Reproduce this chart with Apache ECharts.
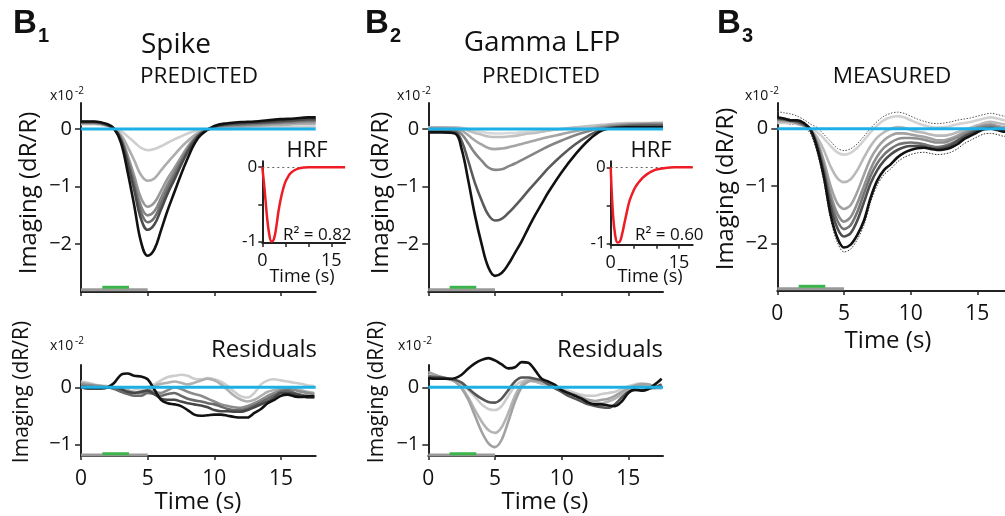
<!DOCTYPE html>
<html><head><meta charset="utf-8">
<script src="https://cdn.jsdelivr.net/npm/echarts@6/dist/echarts.min.js"></script>
<style>html,body{margin:0;padding:0;background:#fff}#c{width:1005px;height:516px}</style>
</head><body><div id="c"></div>
<script>
// ---------- time bases ----------
const T_PRED = [0,1,2,2.5,3,3.5,4,4.5,5,5.5,6,6.5,7,7.5,8,8.5,9,10,11,12,13,14,15,16,17,17.6];
const T_HALF = [0,0.5,1,1.5,2,2.5,3,3.5,4,4.5,5,5.5,6,6.5,7,7.5,8,8.5,9,9.5,10,10.5,11,11.5,12,12.5,13,13.5,14,14.5,15,15.5,16,16.5,17,17.5];
const T_HRF = [0,0.5,1,1.5,2,2.5,3,3.5,4,4.5,5,5.5,6,7,8,9,10,12,14,16,18];
const T_ZERO = [0,17.6];
const ZERO_VALS = [0,0];
const STIM_T = [0,5];
const LIGHT_T = [1.6,3.6];

// ---------- B1: Spike predicted (light -> dark) ----------
const SPIKE_PRED_1 = [0.08,0.08,0.05,0.0,-0.04,-0.13,-0.23,-0.33,-0.37,-0.35,-0.3,-0.24,-0.18,-0.13,-0.08,-0.04,-0.01,0.0,0.0,0.01,0.02,0.02,0.03,0.03,0.04,0.04];
const SPIKE_PRED_2 = [0.1,0.1,0.06,0.0,-0.1,-0.31,-0.55,-0.8,-0.9,-0.86,-0.72,-0.58,-0.45,-0.32,-0.21,-0.11,-0.04,0.02,0.03,0.04,0.05,0.06,0.07,0.08,0.09,0.09];
const SPIKE_PRED_3 = [0.1,0.1,0.06,0.0,-0.15,-0.46,-0.82,-1.2,-1.35,-1.28,-1.08,-0.86,-0.68,-0.49,-0.31,-0.16,-0.06,0.03,0.05,0.06,0.07,0.08,0.1,0.11,0.12,0.12];
const SPIKE_PRED_4 = [0.11,0.11,0.06,0.0,-0.17,-0.51,-0.92,-1.34,-1.5,-1.43,-1.2,-0.96,-0.75,-0.54,-0.35,-0.18,-0.07,0.03,0.06,0.07,0.08,0.1,0.11,0.12,0.14,0.14];
const SPIKE_PRED_5 = [0.12,0.12,0.07,0.0,-0.18,-0.55,-0.99,-1.44,-1.62,-1.54,-1.3,-1.04,-0.81,-0.58,-0.37,-0.19,-0.07,0.04,0.07,0.08,0.1,0.11,0.12,0.14,0.15,0.15];
const SPIKE_PRED_6 = [0.12,0.12,0.07,0.0,-0.19,-0.6,-1.07,-1.56,-1.75,-1.66,-1.4,-1.12,-0.88,-0.63,-0.4,-0.21,-0.08,0.04,0.08,0.1,0.11,0.12,0.14,0.15,0.17,0.17];
const SPIKE_PRED_7 = [0.13,0.13,0.08,0.0,-0.24,-0.75,-1.34,-1.96,-2.2,-2.09,-1.76,-1.41,-1.1,-0.79,-0.51,-0.26,-0.1,0.05,0.1,0.12,0.13,0.15,0.17,0.18,0.2,0.2];

// ---------- B1: Spike residuals ----------
const SPIKE_RES_L1 = [0.1,0.08,0.05,0.03,0.02,0.0,0.0,0.0,-0.02,-0.05,0.0,0.05,0.12,0.18,0.2,0.22,0.2,0.15,0.14,0.16,0.14,0.1,0.02,-0.08,-0.16,-0.18,-0.1,0.05,0.12,0.14,0.12,0.1,0.08,0.06,0.03,0.02];
const SPIKE_RES_L2 = [0.08,0.06,0.04,0.02,0.0,0.0,-0.02,-0.05,-0.08,-0.1,-0.05,0.02,0.06,0.08,0.1,0.08,0.05,0.08,0.12,0.15,0.12,0.05,-0.05,-0.15,-0.22,-0.25,-0.22,-0.15,-0.08,-0.05,-0.02,0.0,-0.02,-0.05,-0.08,-0.1];
const SPIKE_RES_M1 = [0.05,0.04,0.03,0.02,0.0,-0.02,-0.05,-0.08,-0.1,-0.1,-0.05,-0.08,-0.1,-0.05,0.0,-0.03,-0.08,-0.12,-0.15,-0.2,-0.25,-0.3,-0.33,-0.35,-0.36,-0.33,-0.28,-0.22,-0.15,-0.1,-0.05,-0.03,-0.05,-0.08,-0.1,-0.12];
const SPIKE_RES_M2 = [0.02,0.01,0.0,0.0,0.0,-0.03,-0.08,-0.12,-0.15,-0.15,-0.1,-0.12,-0.15,-0.12,-0.1,-0.15,-0.2,-0.23,-0.25,-0.28,-0.3,-0.34,-0.38,-0.4,-0.4,-0.37,-0.32,-0.26,-0.2,-0.14,-0.08,-0.06,-0.1,-0.13,-0.15,-0.16];
const SPIKE_RES_M3 = [0.0,0.0,0.0,0.0,0.0,0.0,-0.03,-0.08,-0.1,-0.08,-0.06,-0.12,-0.2,-0.22,-0.22,-0.25,-0.28,-0.3,-0.32,-0.35,-0.4,-0.42,-0.42,-0.43,-0.43,-0.4,-0.35,-0.3,-0.25,-0.18,-0.1,-0.1,-0.12,-0.15,-0.18,-0.18];
const SPIKE_RES_K = [0.0,-0.02,-0.02,-0.02,0.0,0.08,0.22,0.24,0.2,0.19,0.14,-0.04,-0.22,-0.28,-0.3,-0.33,-0.4,-0.48,-0.5,-0.49,-0.48,-0.48,-0.5,-0.52,-0.53,-0.53,-0.45,-0.38,-0.28,-0.22,-0.15,-0.13,-0.16,-0.17,-0.16,-0.16];

// ---------- B2: Gamma LFP predicted ----------
const GAMMA_PRED_1 = [0.03,0.03,0.03,0.02,0.0,-0.03,-0.05,-0.07,-0.08,-0.08,-0.07,-0.07,-0.06,-0.05,-0.04,-0.03,-0.02,0.0,0.02,0.04,0.06,0.07,0.08,0.09,0.09,0.09];
const GAMMA_PRED_2 = [0.03,0.03,0.03,0.01,-0.03,-0.07,-0.1,-0.13,-0.14,-0.14,-0.13,-0.12,-0.1,-0.08,-0.07,-0.05,-0.03,0.0,0.03,0.05,0.07,0.09,0.1,0.1,0.1,0.1];
const GAMMA_PRED_3 = [0.02,0.02,0.01,-0.03,-0.11,-0.2,-0.27,-0.33,-0.35,-0.34,-0.32,-0.29,-0.26,-0.23,-0.2,-0.17,-0.14,-0.09,-0.04,0.0,0.04,0.07,0.08,0.09,0.1,0.1];
const GAMMA_PRED_4 = [0.0,0.0,-0.02,-0.09,-0.25,-0.42,-0.55,-0.67,-0.71,-0.7,-0.65,-0.6,-0.54,-0.48,-0.42,-0.36,-0.3,-0.2,-0.11,-0.04,0.02,0.05,0.07,0.08,0.08,0.08];
const GAMMA_PRED_5 = [-0.03,-0.03,-0.05,-0.21,-0.56,-0.94,-1.24,-1.49,-1.59,-1.56,-1.46,-1.34,-1.21,-1.07,-0.94,-0.81,-0.68,-0.46,-0.27,-0.12,-0.01,0.03,0.05,0.06,0.06,0.06];
const GAMMA_PRED_6 = [-0.06,-0.06,-0.08,-0.35,-0.9,-1.5,-2.0,-2.4,-2.55,-2.5,-2.35,-2.15,-1.95,-1.72,-1.5,-1.3,-1.1,-0.75,-0.45,-0.2,-0.03,0.02,0.03,0.03,0.03,0.03];

// ---------- B2: Gamma LFP residuals ----------
const GAMMA_RES_L = [0.22,0.2,0.18,0.15,0.12,0.05,-0.05,-0.17,-0.3,-0.38,-0.4,-0.33,-0.15,0.02,0.1,0.12,0.1,0.08,0.05,0.02,-0.03,-0.06,-0.1,-0.13,-0.15,-0.15,-0.12,-0.1,-0.08,-0.03,0.02,0.05,0.07,0.05,0.02,0.0];
const GAMMA_RES_G1 = [0.2,0.18,0.16,0.14,0.1,0.0,-0.18,-0.4,-0.6,-0.75,-0.8,-0.7,-0.45,-0.15,0.05,0.12,0.1,0.06,0.05,0.0,-0.06,-0.1,-0.15,-0.2,-0.24,-0.27,-0.28,-0.25,-0.2,-0.12,-0.05,0.0,0.02,0.0,-0.02,0.0];
const GAMMA_RES_G2 = [0.27,0.22,0.18,0.15,0.1,-0.02,-0.22,-0.5,-0.78,-0.98,-1.05,-0.92,-0.6,-0.25,0.0,0.1,0.12,0.1,0.06,0.0,-0.05,-0.1,-0.13,-0.18,-0.22,-0.24,-0.22,-0.2,-0.15,-0.08,-0.02,0.03,0.05,0.05,0.0,-0.02];
const GAMMA_RES_D = [0.19,0.18,0.17,0.15,0.13,0.08,-0.02,-0.12,-0.2,-0.26,-0.27,-0.2,-0.05,0.1,0.17,0.17,0.15,0.12,0.05,-0.02,-0.08,-0.15,-0.2,-0.25,-0.3,-0.33,-0.35,-0.36,-0.3,-0.18,-0.08,-0.05,-0.05,-0.03,0.0,0.05];
const GAMMA_RES_K = [0.16,0.15,0.15,0.15,0.16,0.22,0.33,0.42,0.48,0.51,0.47,0.4,0.33,0.35,0.44,0.43,0.3,0.15,0.1,0.04,-0.05,-0.1,-0.15,-0.2,-0.27,-0.3,-0.3,-0.32,-0.33,-0.25,-0.1,-0.04,-0.06,-0.03,0.05,0.15];

// ---------- B3: measured ----------
const MEAS_1 = [0.1,0.1,0.1,0.08,0.05,0.0,-0.06,-0.17,-0.3,-0.41,-0.45,-0.42,-0.33,-0.2,-0.06,0.06,0.15,0.2,0.22,0.2,0.15,0.1,0.06,0.03,0.02,0.03,0.05,0.08,0.1,0.12,0.15,0.18,0.2,0.18,0.15,0.14];
const MEAS_2 = [0.12,0.12,0.12,0.1,0.06,-0.02,-0.15,-0.38,-0.66,-0.86,-0.93,-0.88,-0.72,-0.5,-0.3,-0.15,-0.06,0.0,0.03,0.02,-0.02,-0.05,-0.07,-0.1,-0.12,-0.12,-0.1,-0.06,-0.02,0.02,0.06,0.1,0.12,0.1,0.08,0.08];
const MEAS_3 = [0.15,0.15,0.13,0.1,0.06,-0.02,-0.22,-0.57,-1.0,-1.3,-1.4,-1.33,-1.1,-0.8,-0.52,-0.33,-0.2,-0.12,-0.08,-0.08,-0.1,-0.12,-0.14,-0.17,-0.2,-0.2,-0.17,-0.12,-0.06,-0.02,0.03,0.06,0.08,0.05,0.03,0.03];
const MEAS_4 = [0.16,0.15,0.13,0.1,0.06,-0.02,-0.26,-0.65,-1.15,-1.48,-1.62,-1.54,-1.3,-1.0,-0.7,-0.48,-0.33,-0.24,-0.18,-0.16,-0.16,-0.17,-0.19,-0.22,-0.24,-0.24,-0.2,-0.15,-0.08,-0.03,0.02,0.05,0.06,0.03,0.0,0.0];
const MEAS_5 = [0.17,0.16,0.14,0.12,0.07,-0.02,-0.28,-0.72,-1.25,-1.6,-1.75,-1.68,-1.45,-1.13,-0.82,-0.6,-0.45,-0.35,-0.28,-0.25,-0.24,-0.25,-0.27,-0.3,-0.32,-0.3,-0.26,-0.2,-0.12,-0.06,-0.01,0.02,0.03,0.01,-0.02,-0.02];
const MEAS_6 = [0.18,0.17,0.15,0.13,0.08,-0.02,-0.31,-0.78,-1.36,-1.73,-1.88,-1.82,-1.6,-1.28,-0.95,-0.72,-0.56,-0.45,-0.37,-0.32,-0.3,-0.3,-0.31,-0.34,-0.35,-0.33,-0.29,-0.22,-0.14,-0.08,-0.03,0.0,0.01,-0.01,-0.03,-0.03];
const MEAS_7 = [0.2,0.18,0.15,0.15,0.1,-0.02,-0.35,-0.85,-1.5,-1.9,-2.07,-2.02,-1.85,-1.6,-1.2,-0.9,-0.72,-0.62,-0.5,-0.42,-0.37,-0.34,-0.33,-0.35,-0.37,-0.36,-0.33,-0.27,-0.18,-0.12,-0.06,-0.01,0.0,-0.02,-0.05,-0.03];
// error envelopes (dotted outlines) of the measured traces
const MEAS_UPPER = [0.3,0.28,0.26,0.22,0.16,0.08,0.02,-0.1,-0.22,-0.34,-0.38,-0.35,-0.26,-0.13,0.01,0.13,0.22,0.27,0.29,0.27,0.22,0.17,0.13,0.1,0.09,0.1,0.12,0.15,0.17,0.19,0.22,0.25,0.27,0.25,0.22,0.21];
const MEAS_LOWER = [0.12,0.1,0.08,0.08,0.03,-0.09,-0.42,-0.93,-1.58,-1.98,-2.15,-2.1,-1.93,-1.68,-1.28,-0.98,-0.8,-0.7,-0.58,-0.5,-0.45,-0.42,-0.41,-0.43,-0.45,-0.44,-0.41,-0.35,-0.26,-0.2,-0.14,-0.09,-0.08,-0.1,-0.13,-0.11];

// ---------- HRFs ----------
const HRF_SPIKE = [0,-0.3,-0.65,-0.9,-1.0,-0.97,-0.82,-0.6,-0.43,-0.3,-0.2,-0.14,-0.09,-0.04,-0.015,-0.005,0,0,0,0,0];
const HRF_GAMMA = [0,-0.62,-0.9,-0.99,-0.98,-0.88,-0.74,-0.6,-0.47,-0.38,-0.31,-0.25,-0.21,-0.14,-0.09,-0.055,-0.03,-0.008,0,0,0];

// ---------- ticks ----------
const X_TICKS = [0,5,10,15];
const Y_TICKS_TOP = [-2,-1,0];
const Y_TICKS_RES = [-1,0];
const HRF_X_TICKS = [0,5,10,15];
const HRF_X_LABELS = [0,15];
const HRF_Y_TICKS = [-1,-0.5,0];
const HRF_Y_LABELS = [-1,0];

const FONT = '"Open Sans", sans-serif';
const AX = '#222';
const BLUE = '#1cb0e6';
const GREEN = '#3cb44b';
const STIMGRAY = '#9a9a9a';
const TOP_RANGE = [-2.83, 0.45];
const RES_RANGE = [-1.205, 0.39];

const grids = [
  {left:81,    top:103,   width:234.7, height:189},
  {left:81,    top:365,   width:234.7, height:91},
  {left:428.3, top:103,   width:234.7, height:189},
  {left:428.3, top:365,   width:234.7, height:91},
  {left:777.3, top:103,   width:234.7, height:188},
  {left:262.3, top:161.3, width:82.8,  height:81.7},
  {left:610.7, top:161.2, width:82,    height:83.6}
].map(g => Object.assign({outerBoundsMode:'none', containLabel:false, show:false}, g));

const minus = v => (v < 0 ? '\u2212' + (-v) : String(v));

function mainX(gi, showLabels) {
  return {type:'value', gridIndex:gi, min:0, max:17.6,
    axisLine:{show:true, onZero:false, lineStyle:{color:AX, width:2}},
    axisTick:{show:true, customValues:X_TICKS, length:4, lineStyle:{color:AX, width:1.5}},
    axisLabel:{show:showLabels, customValues:X_TICKS, fontSize:21, color:'#111', fontFamily:FONT, margin:13},
    splitLine:{show:false}};
}
function mainY(gi, range, ticks) {
  return {type:'value', gridIndex:gi, min:range[0], max:range[1],
    axisLine:{show:true, onZero:false, lineStyle:{color:AX, width:2}},
    axisTick:{show:true, customValues:ticks, length:6, lineStyle:{color:AX, width:1.5}},
    axisLabel:{show:true, customValues:ticks, fontSize:20, color:'#111', fontFamily:FONT, margin:9, formatter:minus},
    splitLine:{show:false}};
}
function insetX(gi) {
  return {type:'value', gridIndex:gi, min:0, max:18,
    axisLine:{show:true, onZero:false, lineStyle:{color:AX, width:2}},
    axisTick:{show:true, customValues:HRF_X_TICKS, length:4, lineStyle:{color:AX, width:1.5}},
    axisLabel:{show:true, customValues:HRF_X_LABELS, fontSize:18, color:'#111', fontFamily:FONT, margin:9},
    splitLine:{show:false}};
}
function insetY(gi) {
  return {type:'value', gridIndex:gi, min:-1.02, max:0.08,
    axisLine:{show:true, onZero:false, lineStyle:{color:AX, width:2}},
    axisTick:{show:true, customValues:HRF_Y_TICKS, length:4, lineStyle:{color:AX, width:1.5}},
    axisLabel:{show:true, customValues:HRF_Y_LABELS, fontSize:17, color:'#111', fontFamily:FONT, margin:5},
    splitLine:{show:false}};
}

const xAxis = [mainX(0,false), mainX(1,true), mainX(2,false), mainX(3,true), mainX(4,true), insetX(5), insetX(6)];
const yAxis = [mainY(0,TOP_RANGE,Y_TICKS_TOP), mainY(1,RES_RANGE,Y_TICKS_RES), mainY(2,TOP_RANGE,Y_TICKS_TOP),
               mainY(3,RES_RANGE,Y_TICKS_RES), mainY(4,TOP_RANGE,Y_TICKS_TOP), insetY(5), insetY(6)];

const series = [];
function line(ai, T, V, color, width, smooth, z, extra) {
  const s = {type:'line', xAxisIndex:ai, yAxisIndex:ai, data:T.map((t,i)=>[t, V[i]]),
    symbol:'none', showSymbol:false, smooth:smooth, silent:true, animation:false, clip:false,
    lineStyle:{color:color, width:width}, z:z || 2};
  series.push(Object.assign(s, extra || {}));
}
function group(ai, T, list, colors, width, smooth) {
  list.forEach((V,i) => line(ai, T, V, colors[i], width, smooth, 2 + i * 0.01));
}
function decor(ai, range) {
  line(ai, T_ZERO, ZERO_VALS, BLUE, 3, false, 5);
  const span = range[1] - range[0];
  const yG = range[0] + span * 0.012;
  const yL = range[0] + span * 0.025;
  line(ai, STIM_T, [yG, yG], STIMGRAY, 3, false, 4);
  line(ai, LIGHT_T, [yL, yL], GREEN, 3, false, 4);
}

const C7 = ['#cfcfcf','#adadad','#999999','#858585','#6e6e6e','#4a4a4a','#111111'];
group(0, T_PRED, [SPIKE_PRED_1,SPIKE_PRED_2,SPIKE_PRED_3,SPIKE_PRED_4,SPIKE_PRED_5,SPIKE_PRED_6,SPIKE_PRED_7], C7, 2.6, 0.4);
decor(0, TOP_RANGE);

group(1, T_HALF, [SPIKE_RES_L1,SPIKE_RES_L2,SPIKE_RES_M1,SPIKE_RES_M2,SPIKE_RES_M3,SPIKE_RES_K],
      ['#cdcdcd','#b0b0b0','#8c8c8c','#6a6a6a','#474747','#111111'], 2.6, 0.3);
decor(1, RES_RANGE);

group(2, T_PRED, [GAMMA_PRED_1,GAMMA_PRED_2,GAMMA_PRED_3,GAMMA_PRED_4,GAMMA_PRED_5,GAMMA_PRED_6],
      ['#d8d8d8','#c0c0c0','#a5a5a5','#858585','#5a5a5a','#111111'], 2.6, 0.4);
decor(2, TOP_RANGE);

group(3, T_HALF, [GAMMA_RES_L,GAMMA_RES_G1,GAMMA_RES_G2,GAMMA_RES_D,GAMMA_RES_K],
      ['#cccccc','#b4b4b4','#a2a2a2','#555555','#111111'], 2.6, 0.3);
decor(3, RES_RANGE);

line(4, T_HALF, MEAS_UPPER, '#555', 1, 0.3, 1.9, {lineStyle:{color:'#555', width:1, type:[1.5,1.5]}});
line(4, T_HALF, MEAS_LOWER, '#333', 1, 0.3, 1.9, {lineStyle:{color:'#333', width:1, type:[1.5,1.5]}});
group(4, T_HALF, [MEAS_1,MEAS_2,MEAS_3,MEAS_4,MEAS_5,MEAS_6,MEAS_7],
      ['#d2d2d2','#b9b9b9','#a2a2a2','#8e8e8e','#747474','#4d4d4d','#111111'], 2.6, 0.3);
decor(4, TOP_RANGE);

const zeroMark = {silent:true, symbol:'none', label:{show:false}, animation:false,
  lineStyle:{type:[2,3], color:'#666', width:1}, data:[{yAxis:0}]};
line(5, T_HRF, HRF_SPIKE, '#ee1c24', 2.5, 0.4, 6, {markLine:zeroMark});
line(6, T_HRF, HRF_GAMMA, '#ee1c24', 2.5, 0.4, 6, {markLine:zeroMark});

// ---------- text ----------
const G = [];
function txt(x, y, text, size, o) {
  o = o || {};
  G.push({type:'text', x:x, y:y, rotation:o.rot || 0, silent:true, z:50,
    style:{text:text, fontSize:size, fontFamily:o.family || FONT, fontWeight:o.weight || 'normal',
      fill:o.fill || '#111', align:o.align || 'center', verticalAlign:o.va || 'middle'}});
}
const BOLD = '"Liberation Sans", Arial, sans-serif';
[[13,'1'],[365,'2'],[717,'3']].forEach(([x,s]) => {
  txt(x, 24, 'B', 33, {align:'left', weight:'bold', family:BOLD});
  txt(x + 25, 36, s, 20, {align:'left', weight:'bold', family:BOLD});
});
txt(141, 45, 'Spike', 28, {align:'left'});
txt(199, 77, 'PREDICTED', 22.5);
txt(542, 43, 'Gamma LFP', 28);
txt(541, 77, 'PREDICTED', 22.5);
txt(892, 77, 'MEASURED', 22.5);
txt(317, 350, 'Residuals', 24, {align:'right'});
txt(663, 350, 'Residuals', 24, {align:'right'});

// y names
txt(29, 193, 'Imaging (dR/R)', 24, {rot:Math.PI/2});
txt(381, 193, 'Imaging (dR/R)', 24, {rot:Math.PI/2});
txt(726, 189, 'Imaging (dR/R)', 24, {rot:Math.PI/2});
txt(22, 392, 'Imaging (dR/R)', 21, {rot:Math.PI/2});
txt(377, 392, 'Imaging (dR/R)', 21, {rot:Math.PI/2});
// x names
txt(198, 502, 'Time (s)', 24);
txt(545, 502, 'Time (s)', 24);
txt(888, 341, 'Time (s)', 24);
// multipliers
[[50,96],[50,346],[397,96],[398,346],[745,96]].forEach(([x,y]) => {
  txt(x, y, 'x10', 14, {align:'left'});
  txt(x + 25, y - 5, '-2', 10, {align:'left'});
});
// insets
txt(307, 151, 'HRF', 22);
txt(651, 151, 'HRF', 22);
txt(283, 235, 'R\u00b2 = 0.82', 17, {align:'left'});
txt(635, 235, 'R\u00b2 = 0.60', 17, {align:'left'});
txt(302, 277, 'Time (s)', 18);
txt(650, 277, 'Time (s)', 18);

const chart = echarts.init(document.getElementById('c'), null, {renderer:'canvas'});
chart.setOption({animation:false, backgroundColor:'#fff', grid:grids, xAxis:xAxis, yAxis:yAxis, series:series, graphic:G});
</script>
</body></html>
